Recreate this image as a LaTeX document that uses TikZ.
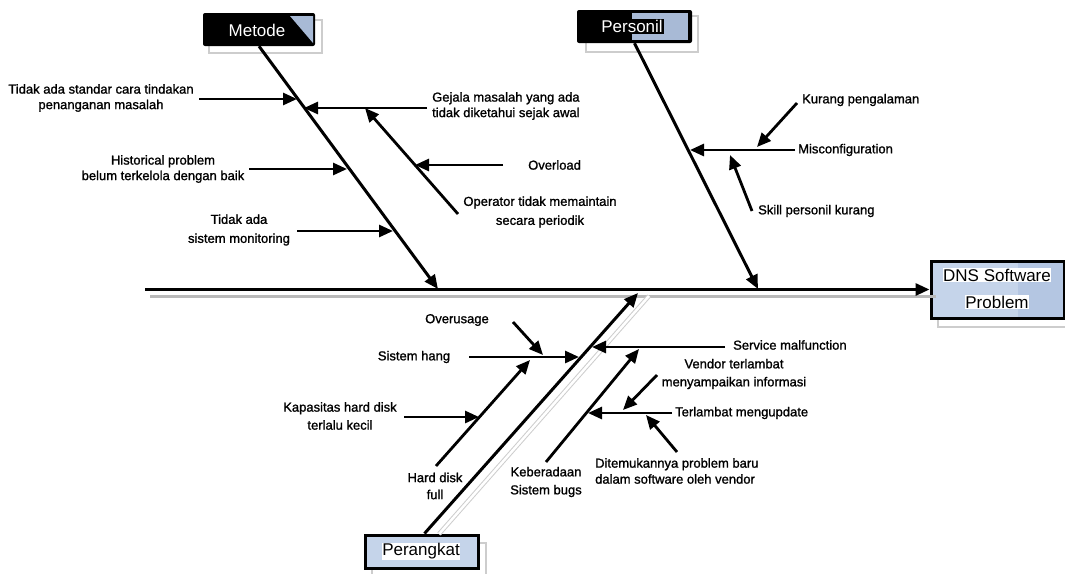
\documentclass[tikz,border=0pt]{standalone}
\usepackage{fontspec}
\setmainfont{Liberation Sans}
\newfontfamily\heavyfont[FakeBold=1.2]{Liberation Sans}
\usetikzlibrary{arrows.meta}
\definecolor{boxblue}{RGB}{197,212,234}
\definecolor{boxbluedark}{RGB}{180,198,226}
\definecolor{steelblue}{RGB}{168,186,214}
\definecolor{shadeline}{RGB}{185,185,185}
\definecolor{shadebox}{RGB}{205,205,205}
\begin{document}
\begin{tikzpicture}[x=1pt,y=-1pt,
  lbl/.style={font=\heavyfont\fontsize{13}{15.5}\selectfont, align=center, inner sep=0pt},
  lbll/.style={lbl, align=left, anchor=west},
  boxtxt/.style={font=\fontsize{17}{26}\selectfont, align=center},
  bone/.style={line width=3pt, -{Triangle[length=14pt,width=12pt]}},
  cause/.style={line width=2.8pt, -{Triangle[length=14pt,width=12pt]}},
  shadow/.style={line width=3pt, shadeline},
  outlineshadow/.style={line width=1pt, draw=shadebox, double=white, double distance=2.5pt},
  boxshade/.style={draw=shadebox, line width=1.5pt},
  darkbox/.style={fill=black, rounded corners=2pt, minimum width=112pt, minimum height=33pt, inner sep=0pt},
  bluebox/.style={fill=boxblue, draw=black, line width=3pt, inner sep=0pt},
]
\useasboundingbox (0,0) rectangle (1065,573);

% ---------- category boxes ----------
\draw[boxshade] (209,20) rectangle (322,53);
\node[darkbox] (metode) at (259,29.5) {};
\fill[steelblue] (290,16) -- (313,16) -- (313,43) -- cycle;
\node[boxtxt, text=white, inner sep=0pt] (metodeTxt) at (257,30) {Metode};

\draw[boxshade] (586,16) rectangle (698,52);
\node[darkbox, minimum width=115pt] (personil) at (634.5,26.5) {};
\fill[steelblue] (632,13) rectangle (688,40);
\node[boxtxt, text=white, fill=black, inner xsep=1pt, inner ysep=1pt] (personilTxt) at (632,26.5) {Personil};

\draw[boxshade] (938,268) rectangle (1070,327);
\node[bluebox, minimum width=133pt, minimum height=57pt] (dns) at (997.5,289.5) {};
\fill[boxbluedark] (1018,262.5) rectangle (1062.5,316.5);
\node[boxtxt, fill=white, inner sep=0.5pt] (dnsTxt1) at (997,275) {DNS Software};
\node[boxtxt, fill=white, inner sep=0.5pt] (dnsTxt2) at (997,302) {Problem};

\draw[boxshade] (372,543) rectangle (486,576);
\node[bluebox, minimum width=113pt, minimum height=33pt] (perangkat) at (421.5,551.5) {};
\node[boxtxt, fill=white, inner sep=0.5pt] (perangkatTxt) at (421,551.5) {Perangkat};

% ---------- spine ----------
\coordinate (spineStart) at (145,289.5);
\draw[shadow] (150,296) -- (936,296);
\draw[bone] (spineStart) -- (dns.west);

% ---------- main bones ----------
\coordinate (metodeTip) at (438,289);
\coordinate (personilTip) at (758,289);
\coordinate (perangkatTip) at (638,293);
\draw[outlineshadow] (439,534) -- (649,296);
\draw[bone] (metode.south) -- (metodeTip);
\draw[bone] (personil.south) -- (personilTip);
\draw[bone] ([xshift=3pt]perangkat.north) -- (perangkatTip);

% ---------- Metode causes ----------
\node[lbl] (tStandar) at (101,98) {Tidak ada standar cara tindakan\\penanganan masalah};
\coordinate (aStandar) at (199,99);  \coordinate (bStandar) at (297,99);
\draw[cause] (aStandar) -- (bStandar);

\node[lbll] (tGejala) at (432,106) {Gejala masalah yang ada\\tidak diketahui sejak awal};
\coordinate (aGejala) at (427,108);  \coordinate (bGejala) at (304,108);
\draw[cause] (aGejala) -- (bGejala);

\node[lbl] (tHist) at (163,169) {Historical problem\\belum terkelola dengan baik};
\coordinate (aHist) at (249,169);  \coordinate (bHist) at (347,169);
\draw[cause] (aHist) -- (bHist);

\node[lbl, font=\heavyfont\fontsize{13}{19}\selectfont] (tMon) at (239,230) {Tidak ada\\sistem monitoring};
\coordinate (aMon) at (297,231);  \coordinate (bMon) at (393,231);
\draw[cause] (aMon) -- (bMon);

\node[lbl, font=\heavyfont\fontsize{13}{19}\selectfont] (tOper) at (540,212) {Operator tidak memaintain\\secara periodik};
\coordinate (aOper) at (458,214);  \coordinate (bOper) at (365,108);
\draw[cause] (aOper) -- (bOper);

\node[lbll] (tOver) at (528,165) {Overload};
\coordinate (aOver) at (503,165);  \coordinate (bOver) at (415,165);
\draw[cause] (aOver) -- (bOver);

% ---------- Personil causes ----------
\node[lbll] (tMis) at (798,150) {Misconfiguration};
\coordinate (aMis) at (795,150);  \coordinate (bMis) at (690,150);
\draw[cause] (aMis) -- (bMis);

\node[lbll] (tKurang) at (802,100) {Kurang pengalaman};
\coordinate (aKurang) at (797,103);  \coordinate (bKurang) at (757,147);
\draw[cause] (aKurang) -- (bKurang);

\node[lbll] (tSkill) at (758,211) {Skill personil kurang};
\coordinate (aSkill) at (752,211);  \coordinate (bSkill) at (730,155);
\draw[cause] (aSkill) -- (bSkill);

% ---------- Perangkat causes ----------
\node[lbl] (tUsage) at (457,320) {Overusage};
\coordinate (aUsage) at (513,322);  \coordinate (bUsage) at (543,355);
\draw[cause] (aUsage) -- (bUsage);

\node[lbl] (tHang) at (414,357) {Sistem hang};
\coordinate (aHang) at (469,357);  \coordinate (bHang) at (579,357);
\draw[cause] (aHang) -- (bHang);

\node[lbl, font=\heavyfont\fontsize{13}{18}\selectfont] (tKap) at (340,416) {Kapasitas hard disk\\terlalu kecil};
\coordinate (aKap) at (404,417);  \coordinate (bKap) at (479,417);
\draw[cause] (aKap) -- (bKap);

\node[lbl, font=\heavyfont\fontsize{13}{17}\selectfont] (tFull) at (435,486) {Hard disk\\full};
\coordinate (aFull) at (436,466);  \coordinate (bFull) at (530,360);
\draw[cause] (aFull) -- (bFull);

\node[lbll] (tServ) at (733,345) {Service malfunction};
\coordinate (aServ) at (725,347);  \coordinate (bServ) at (592,347);
\draw[cause] (aServ) -- (bServ);

\node[lbl, font=\heavyfont\fontsize{13}{18}\selectfont] (tBug) at (546,482) {Keberadaan\\Sistem bugs};
\coordinate (aBug) at (546,462);  \coordinate (bBug) at (639,349);
\draw[cause] (aBug) -- (bBug);

\node[lbl, font=\heavyfont\fontsize{13}{18}\selectfont] (tVendor) at (734,374) {Vendor terlambat\\menyampaikan informasi};
\coordinate (aVendor) at (657,375);  \coordinate (bVendor) at (623,410);
\draw[cause] (aVendor) -- (bVendor);

\node[lbll] (tUpd) at (675,413) {Terlambat mengupdate};
\coordinate (aUpd) at (672,413);  \coordinate (bUpd) at (588,413);
\draw[cause] (aUpd) -- (bUpd);

\node[lbll, font=\heavyfont\fontsize{13}{16}\selectfont] (tDit) at (595,471) {Ditemukannya problem baru\\dalam software oleh vendor};
\coordinate (aDit) at (677,452);  \coordinate (bDit) at (646,415);
\draw[cause] (aDit) -- (bDit);
\end{tikzpicture}
\end{document}
